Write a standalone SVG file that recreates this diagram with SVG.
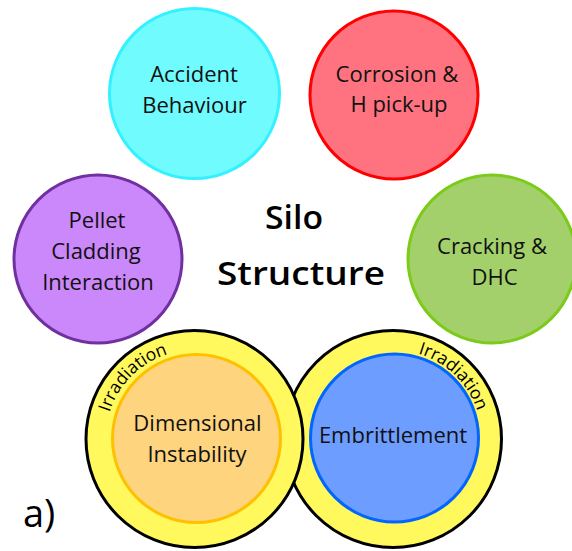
<svg xmlns="http://www.w3.org/2000/svg" width="572" height="551" viewBox="0 0 572 551">
<style>
  .lbl { font-family: "Open Sans", "Liberation Sans", sans-serif; font-size: 22px; fill: #111; text-anchor: middle; }
  .title { font-family: "Open Sans", "Liberation Sans", sans-serif; font-size: 32px; font-weight: 600; fill: #000; text-anchor: middle; }
  .irr { font-family: "Open Sans", "Liberation Sans", sans-serif; font-size: 17.5px; fill: #000; }
  .node { stroke-width: 3; }
  .ring { fill: #FFF95E; stroke: #000; stroke-width: 3; }
</style>
<defs>
  <path id="arcL" d="M108.53,462.03 A89,89 0 0 1 217.53,353.03"/>
  <path id="arcR" d="M368.47,353.45 A89,89 0 0 1 479.35,460.53"/>
</defs>
<rect width="572" height="551" fill="#fff"/>
<g id="connectors"/>
<g id="accident">
  <circle class="node" cx="194.5" cy="93.5" r="85" fill="#70FBFF" stroke="#33F2FF"/>
  <text class="lbl" x="194" y="82">Accident</text>
  <text class="lbl" x="194.5" y="113">Behaviour</text>
</g>
<g id="corrosion">
  <circle class="node" cx="394" cy="95" r="84" fill="#FF7380" stroke="#FF0000"/>
  <text class="lbl" x="397" y="82">Corrosion &amp;</text>
  <text class="lbl" x="399" y="112">H pick-up</text>
</g>
<g id="pellet">
  <circle class="node" cx="98" cy="259" r="84" fill="#CB88FA" stroke="#7030A0"/>
  <text class="lbl" x="97" y="228">Pellet</text>
  <text class="lbl" x="96" y="259">Cladding</text>
  <text class="lbl" x="98" y="290">Interaction</text>
</g>
<g id="cracking">
  <circle class="node" cx="492" cy="259" r="84" fill="#A3D06B" stroke="#7CCB1A"/>
  <text class="lbl" x="492" y="254">Cracking &amp;</text>
  <text class="lbl" x="494.5" y="285">DHC</text>
</g>
<g id="title">
  <text class="title" x="294" y="229" textLength="58" lengthAdjust="spacingAndGlyphs">Silo</text>
  <text class="title" x="301" y="285" textLength="168" lengthAdjust="spacingAndGlyphs">Structure</text>
</g>
<g id="embrittlement">
  <circle class="ring" cx="393" cy="439" r="108.5"/>
  <circle class="node" cx="394.5" cy="438" r="84" fill="#6D9EFF" stroke="#0066FF"/>
  <text class="lbl" x="393" y="443">Embrittlement</text>
  <text class="irr"><textPath href="#arcR" startOffset="50%" text-anchor="middle">Irradiation</textPath></text>
</g>
<g id="dimensional">
  <circle class="ring" cx="194.5" cy="439" r="108.5"/>
  <circle class="node" cx="196.5" cy="438.5" r="84" fill="#FFD47F" stroke="#FFC000"/>
  <text class="lbl" x="197.5" y="431">Dimensional</text>
  <text class="lbl" x="197" y="462">Instability</text>
  <text class="irr"><textPath href="#arcL" startOffset="50%" text-anchor="middle">Irradiation</textPath></text>
</g>
<g id="label-a">
  <text x="23" y="527" style="font-family: 'Open Sans', 'Liberation Sans', sans-serif; font-size: 38px; fill: #000;">a)</text>
</g>
</svg>
